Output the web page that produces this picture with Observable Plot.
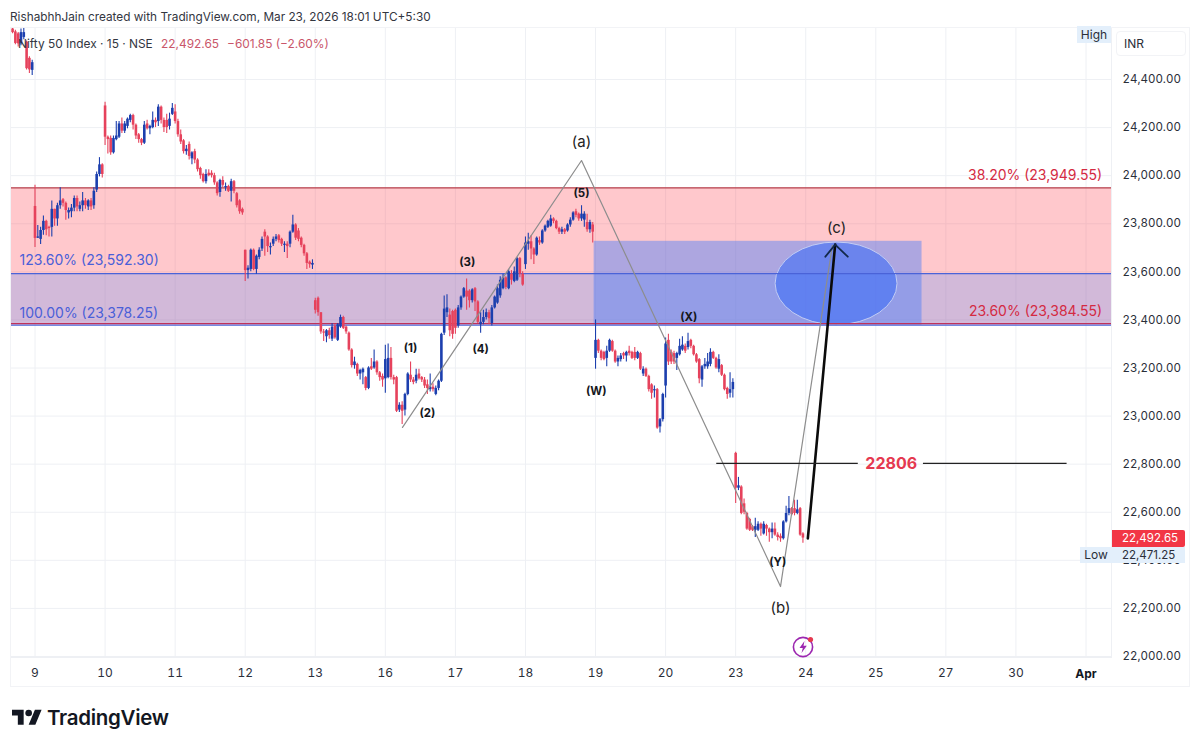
<!DOCTYPE html>
<html><head><meta charset="utf-8">
<script src="https://cdn.jsdelivr.net/npm/d3@7"></script>
<script src="https://cdn.jsdelivr.net/npm/@observablehq/plot@0.6"></script>
<style>
html,body{margin:0;background:#fff;font-family:Inter,sans-serif;color:#1f2430}
#wrap{position:relative;width:1200px;height:747px;overflow:hidden}
#wrap svg.plot{position:absolute;left:0;top:0}
.o{position:absolute;white-space:nowrap;line-height:16px}
</style></head><body><div id="wrap"></div>
<script>
// candles: [open, close, high, low], one list per trading session
const mar06 = [[24610,24595,24625,24590],[24598,24550,24605,24545],[24590,24548,24595,24535],[24548,24595,24610,24540],[24575,24595,24615,24565],[24555,24445,24560,24440],[24488,24440,24495,24425],[24438,24470,24480,24417]];
const mar09 = [[23872,23739,23960,23701],[23740,23745,23793,23739],[23735,23772,23785,23714],[23772,23810,23832,23752],[23810,23775,23815,23750],[23785,23780,23790,23745],[23785,23860,23895,23745],[23860,23820,23860,23790],[23820,23875,23885,23790],[23875,23895,23950,23860],[23900,23885,23905,23870],[23885,23855,23890,23815],[23845,23855,23865,23820],[23850,23865,23880,23825],[23865,23905,23915,23850],[23905,23870,23915,23850],[23860,23875,23890,23850],[23875,23895,23930,23850],[23895,23875,23905,23860],[23870,23895,23900,23855],[23895,23870,23905,23855],[23875,23935,23950,23860],[23940,24005,24015,23930],[24005,24045,24075,23995],[24045,24005,24050,23990]];
const mar10 = [[24290,24160,24305,24125],[24160,24150,24165,24090],[24155,24095,24165,24085],[24095,24155,24165,24090],[24150,24165,24225,24145],[24160,24215,24225,24155],[24215,24185,24240,24175],[24185,24215,24225,24175],[24205,24235,24240,24195],[24230,24250,24255,24220],[24250,24210,24255,24190],[24210,24165,24215,24150],[24170,24150,24175,24135],[24150,24135,24155,24125],[24135,24210,24225,24130],[24215,24195,24230,24190],[24195,24205,24210,24170],[24200,24230,24265,24195],[24230,24220,24240,24200],[24225,24285,24295,24205],[24285,24230,24290,24215],[24230,24200,24240,24180],[24230,24200,24255,24175],[24205,24235,24260,24190],[24255,24280,24300,24250]];
const mar11 = [[24265,24225,24295,24215],[24225,24170,24235,24160],[24170,24140,24190,24130],[24145,24100,24150,24090],[24100,24110,24125,24085],[24130,24080,24140,24065],[24070,24095,24100,24045],[24100,24065,24110,24050],[24065,24025,24070,24015],[24030,24000,24035,23985],[24005,23975,24010,23970],[23975,24005,24025,23965],[24010,24000,24025,23995],[24010,24000,24020,23990],[24000,23970,24010,23960],[23970,23925,23975,23915],[23930,23980,23985,23910],[23980,23960,23995,23950],[23950,23955,23970,23935],[23955,23935,23960,23930],[23935,23975,23985,23890],[23975,23935,23980,23925],[23925,23875,23930,23865],[23895,23850,23900,23840],[23860,23845,23865,23835]];
const mar12 = [[23690,23605,23690,23560],[23605,23615,23625,23570],[23610,23690,23695,23600],[23690,23610,23695,23605],[23610,23665,23670,23590],[23660,23690,23700,23650],[23695,23735,23745,23685],[23765,23745,23775,23665],[23745,23705,23750,23680],[23700,23705,23720,23670],[23715,23735,23745,23705],[23735,23745,23755,23725],[23750,23730,23755,23720],[23735,23715,23740,23705],[23710,23715,23725,23680],[23715,23705,23725,23655],[23715,23765,23770,23700],[23765,23795,23835,23760],[23795,23740,23800,23730],[23770,23735,23780,23725],[23740,23710,23745,23700],[23710,23675,23715,23665],[23675,23635,23680,23610],[23640,23630,23645,23615],[23628,23635,23650,23610]];
const mar13 = [[23480,23440,23490,23425],[23490,23430,23495,23415],[23430,23350,23430,23340],[23350,23345,23360,23310],[23330,23355,23360,23305],[23355,23335,23365,23320],[23320,23370,23385,23310],[23375,23325,23380,23320],[23315,23380,23385,23310],[23370,23410,23420,23365],[23410,23365,23415,23360],[23370,23350,23375,23340],[23345,23275,23350,23270],[23275,23210,23280,23200],[23210,23225,23245,23195],[23215,23175,23220,23165],[23175,23190,23195,23150],[23180,23195,23200,23130],[23160,23115,23165,23105],[23115,23200,23205,23110],[23205,23195,23240,23190],[23200,23225,23275,23195],[23225,23180,23230,23170],[23180,23160,23185,23145],[23165,23150,23175,23120]];
const mar16 = [[23155,23235,23295,23095],[23160,23240,23300,23155],[23240,23160,23285,23150],[23160,23150,23170,23130],[23160,23020,23165,23015],[23025,23045,23055,23015],[23045,23020,23060,22965],[23025,23090,23095,23000],[23090,23175,23180,23085],[23170,23150,23225,23140],[23150,23140,23160,23130],[23145,23170,23195,23135],[23175,23155,23195,23150],[23160,23150,23165,23140],[23150,23125,23160,23115],[23130,23115,23150,23090],[23110,23120,23175,23100],[23120,23110,23135,23100],[23090,23115,23125,23085],[23115,23145,23150,23105],[23145,23340,23345,23140],[23345,23445,23500,23335],[23430,23450,23505,23410],[23420,23355,23445,23330],[23435,23340,23440,23320]];
const mar17 = [[23440,23365,23445,23340],[23375,23450,23460,23365],[23450,23495,23500,23440],[23495,23530,23535,23490],[23520,23495,23570,23440],[23520,23480,23525,23450],[23480,23525,23530,23470],[23530,23475,23535,23435],[23475,23390,23480,23385],[23380,23390,23430,23345],[23390,23410,23440,23380],[23410,23430,23445,23400],[23430,23405,23440,23380],[23385,23450,23460,23375],[23450,23495,23500,23445],[23470,23530,23545,23465],[23500,23565,23580,23490],[23530,23575,23590,23525],[23575,23535,23580,23525],[23530,23600,23610,23525],[23590,23565,23605,23545],[23560,23600,23620,23555],[23565,23655,23660,23560],[23655,23590,23660,23575],[23590,23545,23600,23540]];
const mar18 = [[23630,23720,23745,23610],[23715,23725,23760,23690],[23725,23695,23750,23650],[23695,23670,23700,23630],[23670,23740,23745,23665],[23730,23720,23745,23710],[23720,23770,23775,23715],[23770,23790,23795,23765],[23785,23810,23815,23780],[23790,23820,23835,23785],[23820,23810,23825,23800],[23810,23780,23815,23775],[23780,23765,23785,23755],[23765,23775,23785,23755],[23775,23765,23780,23755],[23770,23795,23800,23765],[23795,23815,23825,23785],[23815,23845,23850,23810],[23850,23835,23860,23825],[23840,23820,23845,23810],[23820,23840,23875,23810],[23815,23840,23850,23785],[23805,23775,23840,23765],[23775,23805,23815,23760],[23795,23765,23805,23720]];
const mar19 = [[23240,23315,23400,23195],[23315,23270,23320,23260],[23270,23240,23275,23230],[23265,23235,23270,23230],[23240,23270,23290,23205],[23270,23315,23320,23265],[23310,23270,23315,23265],[23270,23225,23275,23220],[23225,23240,23250,23205],[23235,23250,23260,23225],[23260,23250,23265,23235],[23250,23265,23270,23225],[23270,23260,23290,23250],[23265,23240,23270,23235],[23265,23240,23285,23230],[23240,23265,23270,23235],[23260,23195,23265,23190],[23175,23195,23205,23165],[23195,23165,23200,23160],[23165,23110,23170,23100],[23130,23095,23135,23070],[23105,23110,23125,23075],[23110,22950,23115,22945],[22955,22985,22990,22930],[22985,23090,23095,22975]];
const mar20 = [[23125,23300,23325,23075],[23315,23225,23340,23210],[23265,23225,23275,23215],[23260,23225,23270,23215],[23240,23260,23265,23190],[23255,23290,23320,23250],[23275,23295,23330,23270],[23290,23270,23300,23260],[23285,23310,23345,23275],[23315,23290,23320,23280],[23290,23255,23295,23250],[23255,23225,23260,23220],[23235,23155,23240,23135],[23150,23205,23210,23120],[23205,23215,23240,23195],[23205,23225,23260,23195],[23215,23265,23280,23205],[23265,23240,23270,23235],[23240,23200,23245,23195],[23195,23235,23255,23180],[23210,23170,23215,23165],[23170,23110,23175,23105],[23115,23090,23120,23070],[23095,23110,23180,23075],[23110,23140,23155,23075]];
const mar23 = [[22845,22700,22850,22636],[22700,22710,22745,22690],[22705,22595,22710,22590],[22635,22600,22655,22590],[22595,22530,22600,22525],[22570,22525,22575,22520],[22540,22525,22545,22520],[22525,22540,22575,22495],[22525,22550,22560,22520],[22550,22530,22555,22500],[22510,22550,22560,22505],[22545,22530,22550,22500],[22530,22515,22535,22475],[22515,22530,22555,22490],[22530,22505,22555,22500],[22505,22495,22515,22480],[22500,22490,22510,22475],[22490,22560,22565,22485],[22560,22595,22625,22555],[22595,22615,22665,22585],[22615,22590,22620,22585],[22615,22595,22650,22585],[22595,22610,22650,22590],[22615,22505,22620,22500],[22510,22492.65,22515,22471.25]];

const sessions = [mar09, mar10, mar11, mar12, mar13, mar16, mar17, mar18, mar19, mar20, mar23];
const xLabels = ["9","10","11","12","13","16","17","18","19","20","23","24","25","27","30","Apr"];
const yTicks = [22000,22200,22400,22600,22800,23000,23200,23400,23600,23800,24000,24200,24400];
const barsPerSession = 25;

const wave = [{s:5.245,p:22953},{s:7.80,p:24063},{s:10.64,p:22291},{s:11.38,p:23710}];
const arrowShaft = [{s:11.03,p:22491},{s:11.42,p:23713}];
const arrowHead = [{s:11.28,p:23663},{s:11.42,p:23713},{s:11.6,p:23663}];
const waveLabels = [["(1)",5.36,23281],["(2)",5.60,23011],["(3)",6.17,23639],["(4)",6.36,23277],["(5)",7.80,23926],["(X)",9.33,23410],["(W)",8.01,23102],["(Y)",10.60,22391]];
const abcLabels = [["(a)",7.80,24138],["(b)",10.64,22200],["(c)",11.44,23780]];

const fmt = d3.format(",.2f");
const UP = "#1c3fae", DOWN = "#e6425c";
const bars = [];
const push = (rows, base, start) => rows.forEach((r,i)=>bars.push({t: base + (start+i)/barsPerSession, o:r[0], c:r[1], h:r[2], l:r[3]}));
push(mar06, -1, 17);
sessions.forEach((rows,k)=>push(rows,k,0));
const col = d => d.c >= d.o ? UP : DOWN;

// target-zone ellipse drawn through the chart's scales
const ellipseMark = (cs, cp, rs, rp) => (index, {x,y}) => {
  const e = d3.create("svg:ellipse")
    .attr("cx", x(cs)).attr("cy", y(cp))
    .attr("rx", x(cs+rs)-x(cs)).attr("ry", y(cp-rp)-y(cp))
    .attr("fill", "rgb(66,112,245)").attr("fill-opacity", .62)
    .attr("stroke", "#c3cdf5").attr("stroke-width", 1);
  return e.node();
};

const chart = Plot.plot({
  width: 1200, height: 747,
  marginLeft: 10, marginRight: 89, marginTop: 27, marginBottom: 90,
  style: {fontFamily: "Inter, sans-serif", fontSize: "12px", color: "#2a2e39", background: "#fff"},
  x: {domain: [0,15], range: [34.5,1085.5], type: "linear"},
  y: {domain: [22000,24400], range: [656,79], type: "linear"},
  marks: [
    Plot.gridX(d3.range(xLabels.length), {stroke: "#eef0f4", strokeOpacity: 1}),
    Plot.gridY(yTicks, {stroke: "#eef0f4", strokeOpacity: 1}),
    Plot.frame({stroke: "#eef0f4"}),
    // Fibonacci bands
    Plot.rectY([{}], {y1: 23384.55, y2: 23949.55, fill: "rgb(255,72,85)", fillOpacity: .3}),
    Plot.rectY([{}], {y1: 23378.25, y2: 23592.30, fill: "rgb(80,144,255)", fillOpacity: .26}),
    Plot.rectY([{}], {x1: 7.98, x2: 12.66, y1: 23378, y2: 23727, fill: "rgb(73,124,249)", fillOpacity: .45}),
    ellipseMark(11.44, 23550, 0.87, 172),
    Plot.ruleY([23949.55], {stroke: "#b5434f", strokeWidth: 1.3}),
    Plot.ruleY([23592.30], {stroke: "#4a63d8", strokeWidth: 1.2}),
    Plot.ruleY([23378.25], {stroke: "#4a63d8", strokeWidth: 1.2}),
    Plot.ruleY([23384.55], {stroke: "#c0325a", strokeWidth: 1.3}),
    // candles
    Plot.ruleX(bars, {x: "t", y1: "l", y2: "h", stroke: col, strokeWidth: 1.1, clip: true}),
    Plot.ruleX(bars, {x: "t", y1: "o", y2: "c", stroke: col, strokeWidth: 2.6, clip: true}),
    // wave drawing
    Plot.line(wave, {x: "s", y: "p", stroke: "#8d8d8d", strokeWidth: 1.2}),
    Plot.line(arrowShaft, {x: "s", y: "p", stroke: "#0b0b0b", strokeWidth: 2.6}),
    Plot.line(arrowHead, {x: "s", y: "p", stroke: "#13294b", strokeWidth: 1.8}),
    // 22806 level
    Plot.ruleY([22803], {x1: 9.73, x2: 11.75, stroke: "#222", strokeWidth: 1.3}),
    Plot.ruleY([22803], {x1: 12.68, x2: 14.73, stroke: "#222", strokeWidth: 1.3}),
    Plot.text(["22806"], {x: 12.22, y: 22803, text: d => d, fill: "#e53950", fontSize: 16, fontWeight: 700}),
    // labels
    Plot.text(waveLabels, {x: d => d[1], y: d => d[2], text: d => d[0], fontSize: 11.5, fontWeight: 700, fill: "#15171c"}),
    Plot.text(abcLabels, {x: d => d[1], y: d => d[2], text: d => d[0], fontSize: 15, fill: "#222"}),
    Plot.text(["38.20% (23,949.55)","23.60% (23,384.55)"], {x: 15.23, y: [24001,23435], text: d => d, textAnchor: "end", fontSize: 14, fill: "#d42a42"}),
    Plot.text(["123.60% (23,592.30)","100.00% (23,378.25)"], {x: -0.22, y: [23647,23427], text: d => d, textAnchor: "start", fontSize: 14, fill: "#4a5fd8"}),
    // axes
    Plot.axisX(d3.range(xLabels.length), {anchor: "bottom", tickSize: 0, tickPadding: 11, label: null, tickFormat: i => xLabels[i] === "Apr" ? "" : xLabels[i], fontSize: 12}),
    Plot.text(["Apr"], {x: 15, y: 22000, dy: 18, text: d => d, fontWeight: 700, fontSize: 12, fill: "#131722"}),
    Plot.axisY(yTicks, {anchor: "right", tickSize: 0, tickPadding: 11, label: null, tickFormat: d => fmt(d), fontSize: 11.5})
  ]
});
const wrap = document.getElementById("wrap");
chart.classList.add("plot");
wrap.appendChild(chart);

const add = (html, css) => { const d = document.createElement("div"); d.className = "o"; d.style.cssText = css; d.innerHTML = html; wrap.appendChild(d); return d; };
add("", "left:10px;top:27px;width:1180px;height:660px;border:1px solid #f2f3f6;box-sizing:border-box");
add("RishabhhJain created with TradingView.com, Mar 23, 2026 18:01 UTC+5:30", "left:10px;top:9px;font-size:11.8px;color:#33363f");
add('Nifty 50 Index · 15 · NSE <span style="color:#c9566a;margin-left:5px">22,492.65</span><span style="color:#c9566a;margin-left:8px">−601.85 (−2.60%)</span>', "left:18px;top:36px;font-size:11.9px;color:#33363f");
add("High", "left:1077px;top:26px;width:34px;height:17px;background:#e3effb;text-align:center;font-size:12px;line-height:17px;color:#2a2e39");
add("INR", "left:1116px;top:31px;width:70px;height:25px;box-sizing:border-box;border:1px solid #f2f3f6;border-radius:4px;padding-left:7px;font-size:12px;line-height:24px;color:#2a2e39;background:#fff");
add("Low", "left:1080px;top:547px;width:32px;height:16px;background:#e3effb;text-align:center;font-size:12px;color:#2a2e39");
add("22,471.25", "left:1112px;top:547px;width:73px;height:16px;background:#e3effb;box-sizing:border-box;padding-left:10px;font-size:11.5px;color:#2a2e39");
add("22,492.65", "left:1112px;top:530px;width:73px;height:17px;background:#f23645;border-radius:0 2px 2px 0;box-sizing:border-box;padding-left:10px;font-size:11.5px;line-height:17px;color:#fff");
add('<svg width="30" height="24" viewBox="0 0 36 28" style="display:block"><path fill="#131722" d="M14 22H7V11H0V4h14v18zM28 22h-8l7.5-18h8L28 22z"/><circle fill="#131722" cx="20" cy="8" r="4"/></svg>', "left:12px;top:706px");
add("TradingView", "left:47px;top:705px;font-size:20.5px;line-height:26px;font-weight:600;color:#131722;letter-spacing:-.3px");
add('<svg width="26" height="28" viewBox="0 0 26 28" style="display:block"><circle cx="11" cy="16" r="9.6" fill="none" stroke="#9c27b0" stroke-width="1.6"/><path d="M12.5 10 L7.5 17 H10.8 L9.5 22 L14.8 14.8 H11.5 Z" fill="#9c27b0"/><circle cx="18.5" cy="8.5" r="2.6" fill="#e53950"/></svg>', "left:792px;top:631px");
</script></body></html>
